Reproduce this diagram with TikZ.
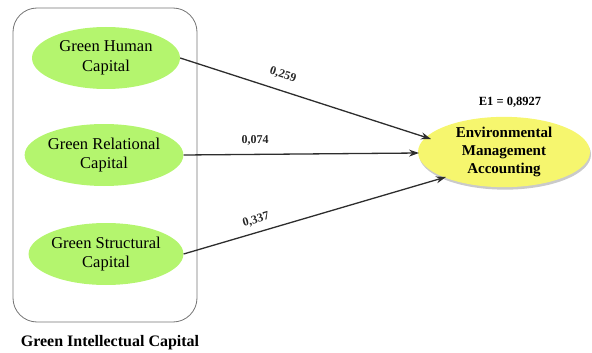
\documentclass[tikz,border=0pt]{standalone}
\usepackage{fontspec}
\setmainfont{Liberation Serif}
\newfontfamily\tms{Liberation Serif}
\usetikzlibrary{shapes.geometric,arrows.meta,shadows}
\definecolor{gfill}{RGB}{180,245,110}
\definecolor{yfill}{RGB}{246,246,110}
\definecolor{lin}{RGB}{45,45,45}
\tikzset{
  every node/.style={font=\tms},
  gell/.style={ellipse, fill=gfill, draw=none, minimum width=148pt, minimum height=62pt, inner sep=0pt, align=center, font=\tms\fontsize{16.5}{19.5}\selectfont},
  yell/.style={ellipse, fill=yfill, draw=none, minimum width=172pt, minimum height=70pt, inner sep=0pt, align=center, font=\tms\fontsize{15}{18}\selectfont\bfseries,
    drop shadow={shadow xshift=1pt, shadow yshift=-2.5pt, fill=black!35, opacity=0.6}},
  conn/.style={draw=lin, line width=1.3pt, -{Stealth[length=10pt,width=7pt]}},
  coef/.style={font=\tms\fontsize{12}{14}\selectfont\bfseries, text=black!85, inner sep=1pt},
}
\begin{document}
\begin{tikzpicture}[x=1pt,y=-1pt]
\useasboundingbox (0,0) rectangle (592,353);
\node[draw=black!55, line width=0.8pt, rounded corners=24pt, minimum width=184pt, minimum height=314pt, inner sep=0pt] (box) at (105,165) {};
\node[gell] (ghc) at (106,58) {Green Human\\Capital};
\node[gell] (grc) at (104,155) {Green Relational\\Capital};
\node[gell] (gsc) at (106,254) {Green Structural\\Capital};
\node[yell] (ema) at (504,152) {Environmental\\Management\\Accounting};
\node[font=\tms\fontsize{12.5}{14}\selectfont\bfseries] (e1) at (510,102) {E1 = 0,8927};
\node[font=\tms\fontsize{16}{18}\selectfont\bfseries] (gic) at (110,343) {Green Intellectual Capital};
\coordinate (t1) at (431,139);
\coordinate (t2) at (419,153);
\coordinate (t3) at (446,177);
\draw[conn] (ghc.east) -- (t1);
\draw[conn] (grc.east) -- (t2);
\draw[conn] (gsc.east) -- (t3);
\node[coef, rotate=-18] (c1) at (283,75) {0,259};
\node[coef] (c2) at (255,140) {0,074};
\node[coef, rotate=16] (c3) at (256,220) {0,337};
\end{tikzpicture}
\end{document}
